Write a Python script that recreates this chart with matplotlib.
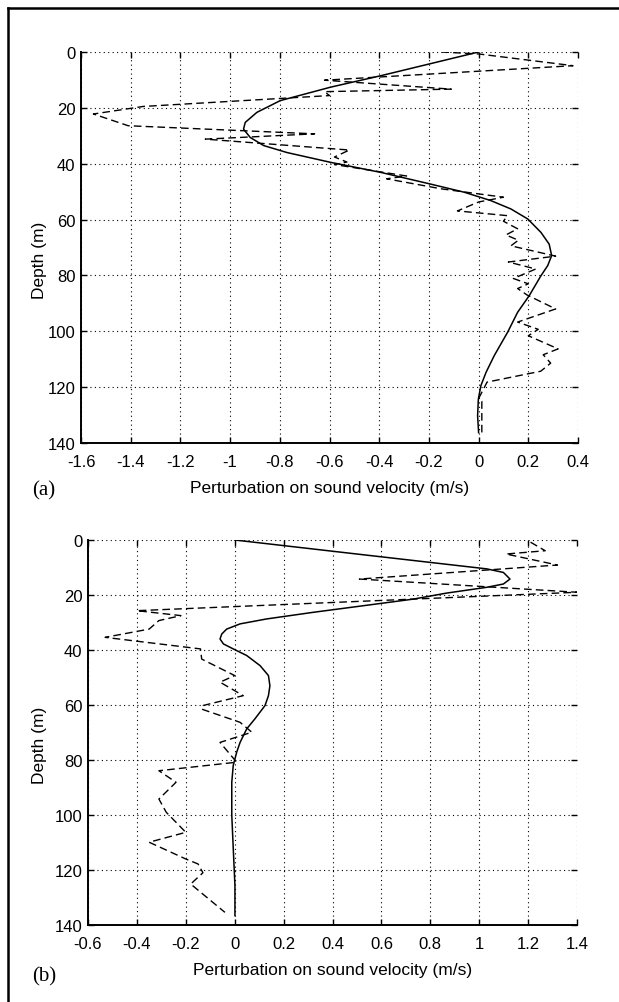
import numpy as np
import matplotlib
matplotlib.use('Agg')
import matplotlib.pyplot as plt
from matplotlib.lines import Line2D

## ---------------------------- DATOS (a) ---------------------------- ##
d_sol_a = [0, 8.5, 12.6, 17.4, 21.6, 25.2, 27.6, 30.6, 33.5, 36.0, 39.5, 43.1, 47.3,
           50.2, 53.2, 56.2, 59.8, 64.6, 68.8, 72.9, 76.5, 80.1, 87.2, 93.2, 100.3,
           108.7, 114.7, 119.5, 124.3, 130.2, 136.3]
v_sol_a = [0, -0.394, -0.596, -0.798, -0.892, -0.939, -0.946, -0.919, -0.865, -0.771,
           -0.596, -0.394, -0.193, -0.058, 0.049, 0.13, 0.198, 0.251, 0.284, 0.294,
           0.278, 0.251, 0.204, 0.157, 0.117, 0.063, 0.03, 0.009, -0.001, -0.004, 0.0]

d_das_a = [0, 0.7, 4.9, 10.1, 13.3, 14.2, 15.6, 19.5, 22.2, 26.4, 29.3, 31.2, 35.1,
           37.6, 39.4, 40.3, 44.4, 45.4, 49.0, 52.0, 53.7, 56.9, 58.6, 60.6, 63.3,
           65.5, 67.4, 69.4, 73.1, 75.2, 77.7, 81.1, 83.0, 84.7, 87.0, 92.0, 96.7,
           99.3, 101.6, 106.3, 108.4, 111.4, 114.3, 118.2, 124.1, 125.1, 136.8]
v_das_a = [-0.15, 0.0, 0.38, -0.62, -0.11, -0.62, -0.6, -1.35, -1.55, -1.41, -0.66,
           -1.1, -0.52, -0.58, -0.53, -0.58, -0.29, -0.37, -0.15, 0.1, 0.0, -0.085,
           0.116, 0.1, 0.157, 0.11, 0.16, 0.13, 0.31, 0.12, 0.23, 0.14, 0.2, 0.157,
           0.195, 0.31, 0.157, 0.24, 0.2, 0.32, 0.26, 0.29, 0.25, 0.034, 0.0, 0.013,
           0.013]

## ---------------------------- DATOS (b) ---------------------------- ##
d_sol_b = [0, 5, 10.5, 11.8, 14.2, 16, 17.2, 19.3, 21.5, 23.9, 26.3, 28.7, 30.5, 32.4,
           34.2, 36, 37.8, 39.6, 42, 45.7, 49.3, 53, 56.6, 60.2, 65, 68.7, 73.6, 77.2,
           82, 88.1, 100, 112, 125.7, 136.6]
v_sol_b = [0, 0.49, 1.031, 1.099, 1.126, 1.099, 1.031, 0.867, 0.73, 0.526, 0.321,
           0.131, 0.022, -0.033, -0.053, -0.06, -0.046, -0.006, 0.049, 0.104, 0.138,
           0.144, 0.138, 0.124, 0.083, 0.049, 0.022, 0.008, -0.006, -0.012, -0.012,
           -0.006, 0.001, 0.001]

d_das_b = [0.8, 3.9, 5.1, 9.1, 14.2, 19, 25.7, 27.5, 29.3, 32.4, 35.4, 39.6, 43.3,
           49.3, 51.7, 56.6, 60.2, 61.5, 66.3, 69.9, 73.6, 80.8, 83.9, 88.1, 94.2, 99,
           106.3, 109.9, 116, 117.8, 121, 125.1, 135.4]
v_das_b = [1.21, 1.27, 1.11, 1.32, 0.51, 1.4, -0.4, -0.22, -0.31, -0.35, -0.53,
           -0.14, -0.135, 0.0, -0.06, 0.035, -0.13, -0.135, 0.022, 0.07, -0.06, 0.008,
           -0.31, -0.24, -0.31, -0.28, -0.2, -0.35, -0.2, -0.15, -0.13, -0.18, -0.04]

xt_a = [-1.6, -1.4, -1.2, -1, -0.8, -0.6, -0.4, -0.2, 0, 0.2, 0.4]
xt_b = [-0.6, -0.4, -0.2, 0, 0.2, 0.4, 0.6, 0.8, 1, 1.2, 1.4]
yt = [0, 20, 40, 60, 80, 100, 120, 140]

plt.rcParams['font.family'] = ['Liberation Sans', 'DejaVu Sans']

fig = plt.figure(figsize=[6.19, 10.03], dpi=100)

# marco de la pagina (solo izquierda y arriba)
fig.add_artist(Line2D([8 / 619, 8 / 619], [0, 1 - 9 / 1003], color='k', lw=1.8,
                      transform=fig.transFigure))
fig.add_artist(Line2D([8 / 619, 1], [1 - 9 / 1003, 1 - 9 / 1003], color='k', lw=1.8,
                      transform=fig.transFigure))


def panel(rect, xs_s, ds_s, xs_d, ds_d, xt, letra, lab_x, letra_y):
    ax = fig.add_axes(rect)
    ax.plot(xs_s, ds_s, color='k', lw=1.1)
    ax.plot(xs_d, ds_d, color='k', lw=1.0, linestyle=(0, (5.5, 3)))
    ax.set_xlim(xt[0], xt[-1])
    ax.set_ylim(140, 0)
    ax.set_xticks(xt)
    ax.set_xticklabels([('%g' % t) for t in xt])
    ax.set_yticks(yt)
    ax.spines['top'].set_visible(False)
    ax.spines['right'].set_visible(False)
    ax.spines['left'].set_linewidth(1.4)
    ax.spines['bottom'].set_linewidth(1.4)
    ax.tick_params(direction='in', length=4, width=1.0, top=True, right=True,
                   labelsize=12)
    ax.tick_params(axis='x', pad=8)
    ax.tick_params(axis='y', pad=4)
    ax.grid(True, color='k', linestyle=(0, (1, 3)), lw=0.8)
    ax.set_axisbelow(True)
    ax.set_xlabel('Perturbation on sound velocity (m/s)', fontsize=12.5, labelpad=8)
    ax.set_ylabel('Depth (m)', fontsize=12.5)
    ax.yaxis.set_label_coords(lab_x, 0.47)
    fig.text(32 / 619, letra_y, letra, fontsize=15, family='Liberation Serif',
             va='center', ha='left')
    return ax


ax1 = panel([81 / 619, 1 - 444 / 1003, 497 / 619, 391 / 1003],
            v_sol_a, d_sol_a, v_das_a, d_das_a, xt_a, '(a)', -0.0685, 1 - 491 / 1003)
ax2 = panel([88 / 619, 1 - 926 / 1003, 489 / 619, 385 / 1003],
            v_sol_b, d_sol_b, v_das_b, d_das_b, xt_b, '(b)', -0.084, 1 - 977 / 1003)

plt.savefig('out.png', dpi=100)
